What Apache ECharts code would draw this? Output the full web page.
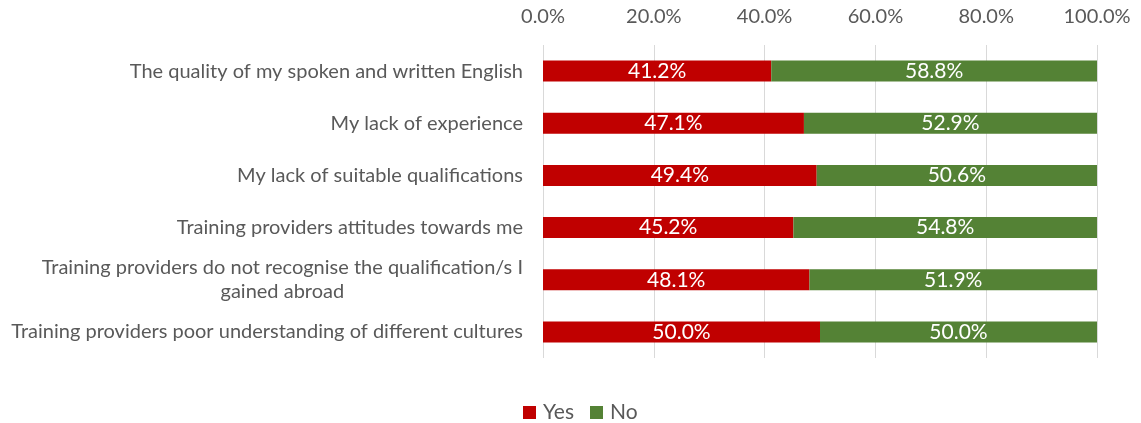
<!DOCTYPE html>
<html>
<head>
<meta charset="utf-8">
<script src="https://cdn.jsdelivr.net/npm/echarts@6/dist/echarts.min.js"></script>
<style>
  html, body { margin: 0; padding: 0; background: #ffffff; }
  #chart { width: 1141px; height: 423px; }
</style>
</head>
<body>
<div id="chart"></div>
<script>
// Survey barriers: share answering Yes / No (percent)
const categories = [
  'The quality of my spoken and written English',
  'My lack of experience',
  'My lack of suitable qualifications',
  'Training providers attitudes towards me',
  'Training providers do not recognise the qualification/s I\ngained abroad',
  'Training providers poor understanding of different cultures'
];
const yesValues = [41.2, 47.1, 49.4, 45.2, 48.1, 50.0];
const noValues = [58.8, 52.9, 50.6, 54.8, 51.9, 50.0];
const seriesNames = ['Yes', 'No'];

const FONT = 'Lato, "Open Sans", sans-serif';
const SIZE = 20;
const TEXT = '#595959';

const chart = echarts.init(document.getElementById('chart'), null, { renderer: 'canvas' });

const dataLabel = {
  show: true,
  position: 'inside',
  color: '#ffffff',
  fontFamily: FONT,
  fontSize: 21,
  formatter: p => p.value.toFixed(1) + '%'
};

chart.setOption({
  animation: false,
  textStyle: { fontFamily: FONT },
  grid: { left: 543, right: 44, top: 45, bottom: 65, containLabel: false },
  legend: {
    top: 397,
    left: 518,
    itemWidth: 13,
    itemHeight: 13,
    itemGap: 16,
    icon: 'rect',
    textStyle: { color: TEXT, fontSize: 21, fontFamily: FONT, padding: [0, 0, 0, 2] },
    data: seriesNames
  },
  xAxis: {
    type: 'value',
    position: 'top',
    min: 0,
    max: 100,
    interval: 20,
    axisLine: { show: false },
    axisTick: { show: false },
    axisLabel: {
      color: TEXT,
      fontSize: SIZE,
      fontFamily: FONT,
      margin: 18,
      formatter: v => v.toFixed(1) + '%'
    },
    splitLine: { show: true, lineStyle: { color: '#d9d9d9', width: 1 } }
  },
  yAxis: {
    type: 'category',
    inverse: true,
    data: categories,
    axisLine: { show: false },
    axisTick: { show: false },
    axisLabel: {
      color: TEXT,
      fontSize: SIZE,
      fontFamily: FONT,
      margin: 20,
      align: 'right',
      formatter: v => v.split('\n').map(s => '{c|' + s + '}').join('\n'),
      rich: {
        c: { align: 'center', color: TEXT, fontSize: SIZE, fontFamily: FONT, lineHeight: 24 }
      }
    }
  },
  series: [
    {
      name: seriesNames[0],
      type: 'bar',
      stack: 'total',
      barWidth: 21,
      itemStyle: { color: '#c00000' },
      label: dataLabel,
      data: yesValues
    },
    {
      name: seriesNames[1],
      type: 'bar',
      stack: 'total',
      barWidth: 21,
      itemStyle: { color: '#548235' },
      label: dataLabel,
      data: noValues
    }
  ]
});
</script>
</body>
</html>
